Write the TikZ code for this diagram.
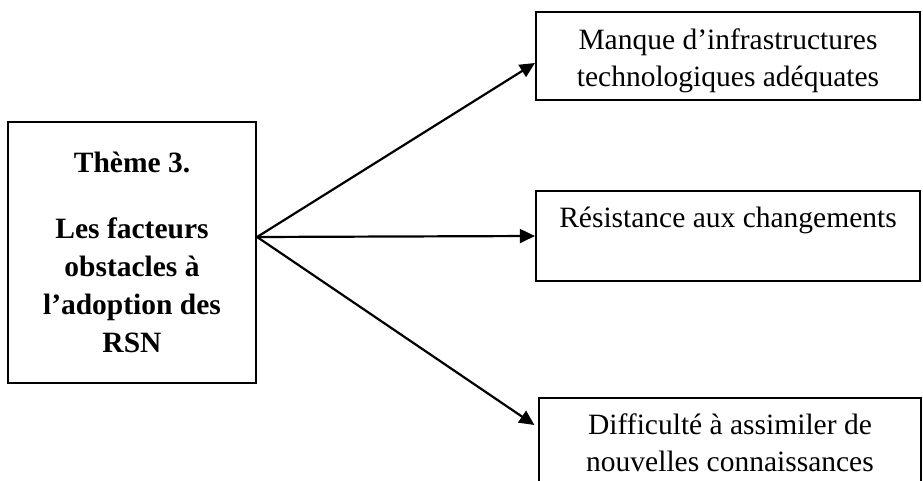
\documentclass[tikz,border=0pt]{standalone}
\usepackage{fontspec}
\setmainfont{Liberation Serif}
\usetikzlibrary{positioning}
\usetikzlibrary{arrows.meta}
\usetikzlibrary{calc}

\begin{document}
\begin{tikzpicture}[x=1pt,y=-1pt,>={Triangle[length=15pt,width=14pt]},
                    line width=2.2pt,
                    box node/.style={rectangle,draw,align=center,inner sep=0pt,
                                     font=\fontsize{29.5}{37}\selectfont},
                    theme node/.style={box node,font=\fontsize{29.5}{38}\selectfont\bfseries}]
      \useasboundingbox (0,0) rectangle (923,481);

      % left box
      \node[theme node, minimum width=248pt, minimum height=261pt] (theme) at (132,252.5)
        {Thème 3.\\[28pt]Les facteurs\\obstacles à\\l’adoption des\\RSN};

      % right boxes
      \node[box node, minimum width=384pt, minimum height=88pt] (manque) at (728,56)
        {\rule{0pt}{31pt}Manque d’infrastructures\\technologiques adéquates};
      \node[box node, minimum width=384pt, minimum height=90pt] (resist) at (728,236)
        {Résistance aux changements\\\mbox{}};
      \node[box node, minimum width=382pt, minimum height=90pt] (diffic) at (730,443)
        {Difficulté à assimiler de\\nouvelles connaissances};

      \coordinate (fork) at ([yshift=15.5pt]theme.east);

      \draw[->] (fork) -- ([yshift=-7pt]manque.west);
      \draw[->] (fork) -- (resist.west);
      \draw[->] (fork) -- ([xshift=-3.5pt,yshift=18pt]diffic.west);
\end{tikzpicture}
\end{document}
